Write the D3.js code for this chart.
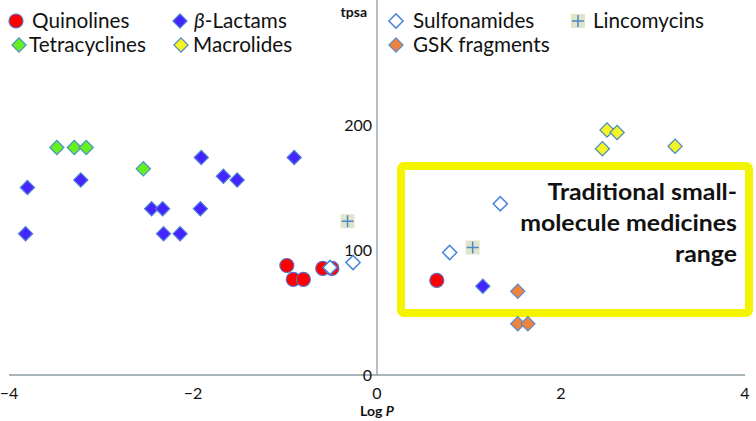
<!DOCTYPE html>
<html>
<head>
<meta charset="utf-8">
<script src="https://cdn.jsdelivr.net/npm/d3@7"></script>
<style>
html,body{margin:0;padding:0;background:#fff;}
svg{display:block;font-family:Lato,"Open Sans",sans-serif;}
</style>
</head>
<body>
<svg id="chart" width="756" height="421"></svg>
<script>
// ---- data (logP, tpsa) ----
const quinolines   = [[-0.98,87.6],[-0.91,76.5],[-0.80,76.5],[-0.59,85.3],[-0.49,85.3],[0.65,75.7]];
const betaLactams  = [[-3.80,150],[-3.82,113],[-3.22,156],[-2.45,133],[-2.33,133],[-2.32,113],[-2.14,113],
                      [-1.91,174],[-1.92,133],[-1.67,159],[-1.52,156],[-0.90,174],[1.15,71]];
const tetracyclines= [[-3.48,182],[-3.29,182],[-3.16,182],[-2.54,165]];
const macrolides   = [[2.50,196],[2.61,194],[2.45,181],[3.24,183]];
const sulfonamides = [[-0.51,86],[-0.26,90],[0.79,98],[1.34,137]];
const gskFragments = [[1.53,67],[1.53,41],[1.64,41]];
const lincomycins  = [[-0.32,123],[1.04,102]];
const xTicks = [-4,-2,0,2,4];
const yTicks = [0,100,200];
const boxLines = ["Traditional small-","molecule medicines","range"];

const svg = d3.select("#chart");
const x = d3.scaleLinear().domain([-4,4]).range([9,745]);
const y = d3.scaleLinear().domain([0,300]).range([375,0]);
const axisColor = "#8d9ca4";

// axes lines
svg.append("line").attr("x1",x(-4)).attr("x2",x(4)).attr("y1",y(0)).attr("y2",y(0))
  .attr("stroke",axisColor).attr("stroke-width",1.3);
svg.append("line").attr("x1",x(0)).attr("x2",x(0)).attr("y1",y(0)).attr("y2",y(300))
  .attr("stroke",axisColor).attr("stroke-width",1.3);

// tick labels
svg.append("g").selectAll("text").data(xTicks).join("text")
  .attr("x",d=>x(d)).attr("y",y(0)+24).attr("text-anchor","middle")
  .attr("font-size",16).attr("fill","#111")
  .text(d=>d<0?"\u2212"+Math.abs(d):d);
svg.append("g").selectAll("text").data(yTicks).join("text")
  .attr("x",x(0)-5).attr("y",d=>y(d)+6).attr("text-anchor","end")
  .attr("font-size",16).attr("fill","#111")
  .text(d=>d);

// axis titles
const xt = svg.append("text").attr("x",x(0)).attr("y",416).attr("text-anchor","middle")
  .attr("font-size",14).attr("font-weight","bold").attr("fill","#111");
xt.append("tspan").text("Log ");
xt.append("tspan").attr("font-style","italic").text("P");
svg.append("text").attr("x",x(0)-10).attr("y",17).attr("text-anchor","end")
  .attr("font-size",14).attr("font-weight","bold").attr("fill","#111").text("tpsa");

// yellow box
svg.append("rect").attr("x",401).attr("y",166).attr("width",348).attr("height",147)
  .attr("rx",3).attr("fill","none").attr("stroke","#f4f400").attr("stroke-width",8);
const bt = svg.append("g");
const btTexts = bt.selectAll("text").data(boxLines).join("text")
  .attr("x",0).attr("y",0).attr("text-anchor","end")
  .attr("font-weight","bold").attr("font-size",22).attr("fill","#111").text(d=>d);
{
  const w = btTexts.nodes()[1].getComputedTextLength();
  const sx = 217/w;
  btTexts.attr("transform",(d,i)=>`translate(737,${200+i*31}) scale(${sx},1)`);
}

// marker styles
const styles = {
  quin:{shape:"circle",fill:"#ff0000",stroke:"#5a6cc0"},
  beta:{shape:"diamond",fill:"#4424ff",stroke:"#4f7fd6"},
  tetra:{shape:"diamond",fill:"#66f022",stroke:"#4a93c4"},
  macro:{shape:"diamond",fill:"#f4f424",stroke:"#4a8ac4"},
  sulfa:{shape:"diamond",fill:"#ffffff",stroke:"#4a86d6"},
  gsk:{shape:"diamond",fill:"#f0843c",stroke:"#5b8ac8"},
  linco:{shape:"plus",fill:"#dfe5cb",stroke:"#4f86c6"}
};
function drawMarker(g, cx, cy, st){
  const m = g.append("g").attr("transform",`translate(${cx},${cy})`);
  if(st.shape==="circle"){
    m.append("circle").attr("r",7).attr("fill",st.fill).attr("stroke",st.stroke).attr("stroke-width",1.2);
  } else if(st.shape==="diamond"){
    m.append("rect").attr("x",-5).attr("y",-5).attr("width",10).attr("height",10)
      .attr("transform","rotate(45)").attr("fill",st.fill).attr("stroke",st.stroke)
      .attr("stroke-width",st.fill==="#ffffff"?1.5:1.2);
  } else {
    m.append("rect").attr("x",-7).attr("y",-7).attr("width",14).attr("height",14).attr("fill",st.fill);
    m.append("path").attr("d","M-6,0H6M0,-6V6").attr("stroke",st.stroke).attr("stroke-width",1.5);
  }
}
const series = [
  [quinolines,"quin"],[betaLactams,"beta"],[tetracyclines,"tetra"],[macrolides,"macro"],
  [sulfonamides,"sulfa"],[gskFragments,"gsk"],[lincomycins,"linco"]
];
const pts = svg.append("g");
series.forEach(([data,key])=>{
  data.forEach(d=>drawMarker(pts, x(d[0]), y(d[1]), styles[key]));
});

// legend
const legendItems = [
  {key:"quin", label:"Quinolines", mx:16, ty:21, tx:32},
  {key:"beta", label:"\u03B2-Lactams", mx:180, ty:21, tx:194, italicFirst:true},
  {key:"tetra", label:"Tetracyclines", mx:19, ty:45, tx:29},
  {key:"macro", label:"Macrolides", mx:181, ty:45, tx:193},
  {key:"sulfa", label:"Sulfonamides", mx:396, ty:21, tx:413},
  {key:"linco", label:"Lincomycins", mx:578, ty:21, tx:593},
  {key:"gsk", label:"GSK fragments", mx:396, ty:45, tx:413}
];
const lg = svg.append("g");
let lfs = 20;
const ltexts = [];
legendItems.forEach(it=>{
  drawMarker(lg, it.mx, it.ty, styles[it.key]);
  const t = lg.append("text").attr("x",it.tx).attr("y",it.ty+7).attr("font-size",lfs).attr("fill","#111");
  if(it.italicFirst){
    t.append("tspan").attr("font-style","italic").text(it.label[0]);
    t.append("tspan").text(it.label.slice(1));
  } else t.text(it.label);
  ltexts.push(t);
});
{
  const w = ltexts[2].node().getComputedTextLength(); // Tetracyclines target 117px
  lfs = lfs*117/w;
  ltexts.forEach(t=>t.attr("font-size",lfs));
}
</script>
</body>
</html>
